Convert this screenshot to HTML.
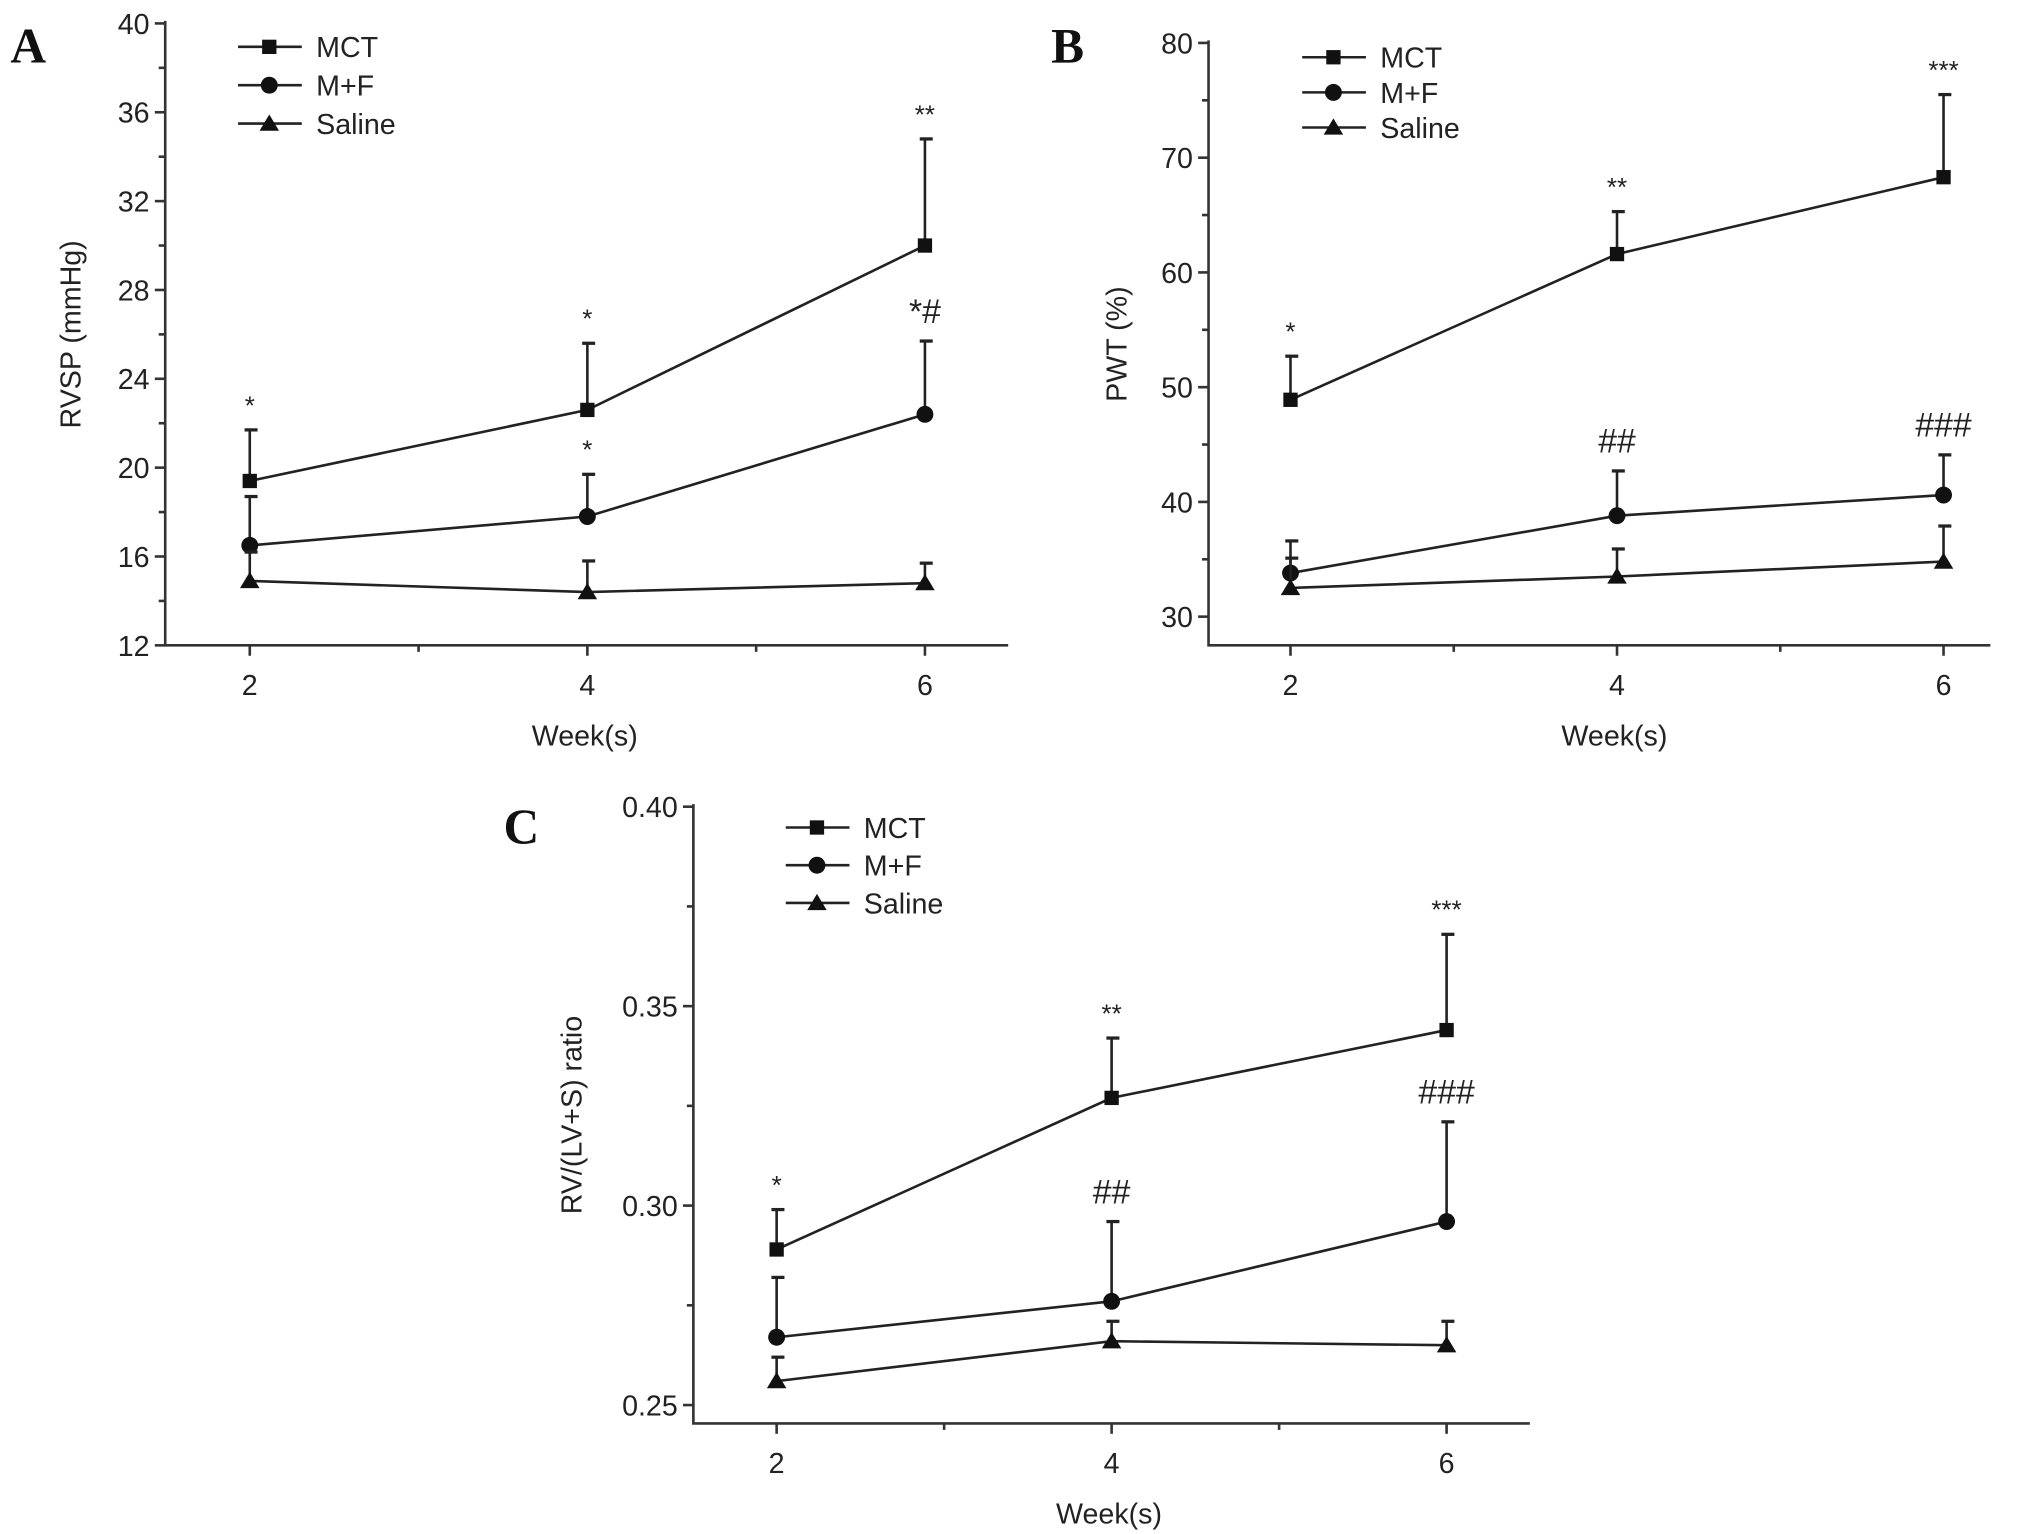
<!DOCTYPE html>
<html><head><meta charset="utf-8"><style>
html,body{margin:0;padding:0;background:#fff}
svg{display:block}
text{font-family:"Liberation Sans",Arial,sans-serif;fill:#222}
</style></head><body>
<svg id="fig" width="2032" height="1534" viewBox="0 0 1562 1179" preserveAspectRatio="none" xmlns="http://www.w3.org/2000/svg"></svg>
<script>
// ---- data ----
const weeks = [2, 4, 6];
const seriesNames = ["MCT", "M+F", "Saline"];
// Panel A: RVSP
const aMCT = [19.4, 22.6, 30.0];
const aMCTerr = [21.7, 25.6, 34.8];
const aMF = [16.5, 17.8, 22.4];
const aMFerr = [18.7, 19.7, 25.7];
const aSal = [14.9, 14.4, 14.8];
const aSalerr = [16.2, 15.8, 15.7];
const aTicks = [12, 16, 20, 24, 28, 32, 36, 40];
const aAnnMCT = ["*", "*", "**"];
const aAnnMF = ["", "*", "*#"];
// Panel B: PWT
const bMCT = [48.9, 61.6, 68.3];
const bMCTerr = [52.7, 65.3, 75.5];
const bMF = [33.8, 38.8, 40.6];
const bMFerr = [36.6, 42.7, 44.1];
const bSal = [32.5, 33.5, 34.8];
const bSalerr = [35.1, 35.9, 37.9];
const bTicks = [30, 40, 50, 60, 70, 80];
const bAnnMCT = ["*", "**", "***"];
const bAnnMF = ["", "##", "###"];
// Panel C: RV/(LV+S)
const cMCT = [0.289, 0.327, 0.344];
const cMCTerr = [0.299, 0.342, 0.368];
const cMF = [0.267, 0.276, 0.296];
const cMFerr = [0.282, 0.296, 0.321];
const cSal = [0.256, 0.266, 0.265];
const cSalerr = [0.262, 0.271, 0.271];
const cTicks = ["0.25", "0.30", "0.35", "0.40"];
const cAnnMCT = ["*", "**", "***"];
const cAnnMF = ["", "##", "###"];

const NS = "http://www.w3.org/2000/svg";
const svg = document.getElementById("fig");
function mk(tag, attrs, parent, txt) {
  const e = document.createElementNS(NS, tag);
  for (const k in attrs) e.setAttribute(k, attrs[k]);
  if (txt !== undefined) e.textContent = txt;
  (parent || svg).appendChild(e);
  return e;
}
function marker(g, kind, x, y) {
  let m;
  if (kind === 0) m = mk("rect", {x: x - 5.5, y: y - 5.5, width: 11, height: 11, fill: "#111"}, g);
  else if (kind === 1) m = mk("circle", {cx: x, cy: y, r: 6.5, fill: "#111"}, g);
  else m = mk("polygon", {points: `${x},${y - 7} ${x - 7.5},${y + 5.5} ${x + 7.5},${y + 5.5}`, fill: "#111"}, g);
  
  
  return m;
}
function panel(p) {
  const g = mk("g", {});
  
  
  const ymin = p.ymin, ymax = p.ymax;
  const Y = v => p.y1 + (ymax - v) / (ymax - ymin) * (p.y0 - p.y1);
  const X = w => p.xs + (w - 2) / 4 * (p.xe - p.xs);
  // panel letter
  const L = mk("text", {x: p.lx, y: p.ly, "font-family": "Liberation Serif,serif", "font-weight": "bold", "font-size": 38, style: "font-family:'Liberation Serif',serif;fill:#111"}, g, p.letter);
  
  
  // axes
  const ax = mk("path", {d: `M${p.ax},${p.y1 - 2} V${p.y0} H${p.axEnd}`, stroke: "#333", "stroke-width": 2, fill: "none"}, g);
  
  
  // y ticks
  p.ticks.forEach(t => {
    const v = parseFloat(t), y = Y(v);
    mk("line", {x1: p.ax - 8, x2: p.ax, y1: y, y2: y, stroke: "#333", "stroke-width": 2}, g);
    const tl = mk("text", {x: p.ax - 12, y: y + 8, "text-anchor": "end", "font-size": 22}, g, t);
    
    
  });
  for (let i = 0; i < p.ticks.length - 1; i++) {
    const v = (parseFloat(p.ticks[i]) + parseFloat(p.ticks[i + 1])) / 2;
    mk("line", {x1: p.ax - 5, x2: p.ax, y1: Y(v), y2: Y(v), stroke: "#333", "stroke-width": 2}, g);
  }
  // x ticks
  weeks.forEach(w => {
    mk("line", {x1: X(w), x2: X(w), y1: p.y0, y2: p.y0 + 8, stroke: "#333", "stroke-width": 2}, g);
    const tl = mk("text", {x: X(w), y: p.y0 + 38, "text-anchor": "middle", "font-size": 22}, g, String(w));
    
    
  });
  [3, 5].forEach(w => mk("line", {x1: X(w), x2: X(w), y1: p.y0, y2: p.y0 + 5, stroke: "#333", "stroke-width": 2}, g));
  const xt = mk("text", {x: (X(2) + X(6)) / 2 - 2, y: p.y0 + 77, "text-anchor": "middle", "font-size": 22}, g, "Week(s)");
  
  
  const yt = mk("text", {x: 0, y: 0, "text-anchor": "middle", "font-size": 22, transform: `translate(${p.ytx},${(p.y0 + p.y1) / 2}) rotate(-90)`}, g, p.ytitle);
  
  
  // series
  p.series.forEach((s, k) => {
    const sg = mk("g", {}, g);
    
    
    s.err.forEach((e, i) => {
      const x = X(weeks[i]);
      mk("line", {x1: x, x2: x, y1: Y(s.v[i]), y2: Y(e), stroke: "#222", "stroke-width": 2}, sg);
      mk("line", {x1: x - 4, x2: x + 6, y1: Y(e), y2: Y(e), stroke: "#222", "stroke-width": 2.5}, sg);
    });
    mk("polyline", {points: s.v.map((v, i) => X(weeks[i]) + "," + Y(v)).join(" "), fill: "none", stroke: "#222", "stroke-width": 2}, sg);
    s.v.forEach((v, i) => marker(sg, k, X(weeks[i]), Y(v)));
    if (s.ann) s.ann.forEach((a, i) => {
      if (!a) return;
      const isHash = a.indexOf("#") >= 0;
      const t = mk("text", {x: X(weeks[i]), y: Y(s.err[i]) - (isHash ? 14 : 12), "text-anchor": "middle", "font-size": isHash ? 26 : 20}, sg, a);
      
      
    });
  });
  // legend
  const lg = mk("g", {}, g);
  
  
  seriesNames.forEach((n, k) => {
    const y = p.legY + k * p.legDy;
    const e = mk("g", {}, lg);
    
    
    mk("line", {x1: p.legX, x2: p.legX + 49, y1: y, y2: y, stroke: "#222", "stroke-width": 2}, e);
    marker(e, k, p.legX + 24, y);
    mk("text", {x: p.legX + 60, y: y + 8, "font-size": 22}, e, n);
  });
}
panel({letter: "A", lx: 8, ly: 48, ax: 127, axEnd: 775, y0: 496, y1: 18, ymin: 12, ymax: 40,
  xs: 192, xe: 711, ticks: aTicks.map(String), ytitle: "RVSP (mmHg)", ytx: 62,
  legX: 183, legY: 36, legDy: 29.5,
  series: [{v: aMCT, err: aMCTerr, ann: aAnnMCT}, {v: aMF, err: aMFerr, ann: aAnnMF}, {v: aSal, err: aSalerr}]});
panel({letter: "B", lx: 808, ly: 48, ax: 929, axEnd: 1530, y0: 496, y1: 33, ymin: 27.5, ymax: 80,
  xs: 992, xe: 1494, ticks: bTicks.map(String), ytitle: "PWT (%)", ytx: 866,
  legX: 1001, legY: 44, legDy: 27,
  series: [{v: bMCT, err: bMCTerr, ann: bAnnMCT}, {v: bMF, err: bMFerr, ann: bAnnMF}, {v: bSal, err: bSalerr}]});
panel({letter: "C", lx: 387, ly: 648, ax: 533, axEnd: 1176, y0: 1094, y1: 620, ymin: 0.2454, ymax: 0.40,
  xs: 597, xe: 1112, ticks: cTicks, ytitle: "RV/(LV+S) ratio", ytx: 447,
  legX: 604, legY: 636, legDy: 29,
  series: [{v: cMCT, err: cMCTerr, ann: cAnnMCT}, {v: cMF, err: cMFerr, ann: cAnnMF}, {v: cSal, err: cSalerr}]});
</script>
</body></html>
